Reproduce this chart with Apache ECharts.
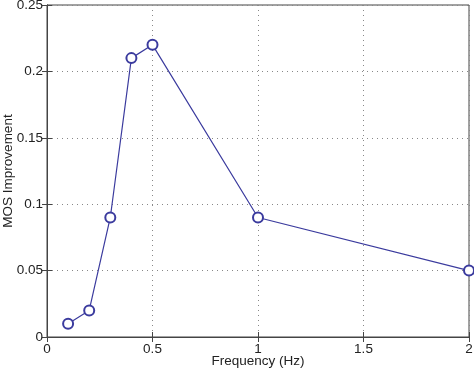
<!DOCTYPE html>
<html><head><meta charset="utf-8">
<script src="https://cdn.jsdelivr.net/npm/echarts@6/dist/echarts.min.js"></script>
<style>html,body{margin:0;padding:0;background:#fff}#c{width:474px;height:371px}</style>
</head><body><div id="c"></div>
<script>
const freq = [0.1, 0.2, 0.3, 0.4, 0.5, 1.0, 2.0];
const mos = [0.01, 0.02, 0.09, 0.21, 0.22, 0.09, 0.05];
const xTitle = 'Frequency (Hz)';
const yTitle = 'MOS Improvement';

const chart = echarts.init(document.getElementById('c'));
const font = 'Liberation Sans, Arial, sans-serif';
const axisCol = '#444';
const txt = '#222';
const fs = 13.5;
const splitLine = {show: true, lineStyle: {color: '#888', type: [1, 4], width: 1}};
chart.setOption({
  animation: false,
  grid: {left: 47, right: 5, top: 5, bottom: 34, outerBoundsMode: 'none', containLabel: false,
         show: true, borderColor: axisCol, borderWidth: 1},
  xAxis: [{
    type: 'value', min: 0, max: 2, interval: 0.5,
    name: xTitle, nameLocation: 'middle', nameGap: 17, nameMoveOverlap: false,
    nameTextStyle: {fontFamily: font, fontSize: fs, color: txt},
    axisLine: {lineStyle: {color: axisCol}},
    axisTick: {inside: true, length: 5, lineStyle: {color: axisCol}},
    axisLabel: {fontFamily: font, fontSize: fs, color: txt, margin: 5},
    splitLine: splitLine
  }, {
    type: 'value', position: 'top', min: 0, max: 2, interval: 0.5,
    axisLine: {show: true, lineStyle: {color: axisCol}},
    axisTick: {inside: true, length: 5, lineStyle: {color: axisCol}},
    axisLabel: {show: false}, splitLine: {show: false}
  }],
  yAxis: [{
    type: 'value', min: 0, max: 0.25, interval: 0.05,
    name: yTitle, nameLocation: 'middle', nameGap: 32, nameMoveOverlap: false,
    nameTextStyle: {fontFamily: font, fontSize: fs, color: txt},
    axisLine: {show: true, lineStyle: {color: axisCol}},
    axisTick: {show: true, inside: true, length: 5, lineStyle: {color: axisCol}},
    axisLabel: {fontFamily: font, fontSize: fs, color: txt, margin: 4},
    splitLine: splitLine
  }, {
    type: 'value', position: 'right', min: 0, max: 0.25, interval: 0.05,
    axisLine: {show: true, lineStyle: {color: axisCol}},
    axisTick: {show: true, inside: true, length: 5, lineStyle: {color: axisCol}},
    axisLabel: {show: false}, splitLine: {show: false}
  }],
  series: [{
    type: 'line',
    data: freq.map((f, i) => [f, mos[i]]),
    symbol: 'emptyCircle', symbolSize: 10,
    lineStyle: {color: '#3b3b9e', width: 1.2},
    itemStyle: {color: '#3b3b9e', borderColor: '#3b3b9e', borderWidth: 1}
  }]
});
</script></body></html>
